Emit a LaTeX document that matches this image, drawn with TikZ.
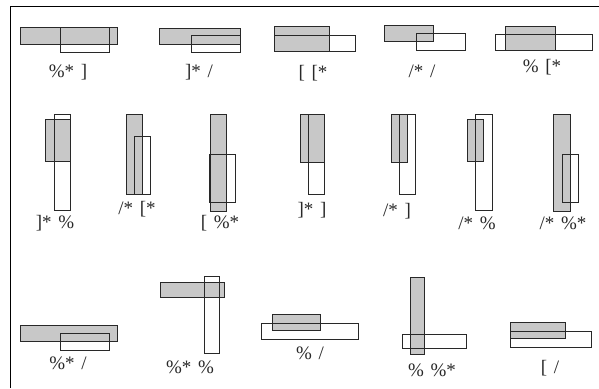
\documentclass[tikz,border=0pt]{standalone}
\usepackage{fontspec}
\setmainfont{Liberation Serif}
\usepackage{tikz}
\definecolor{BoxGray}{RGB}{200,200,200}
\definecolor{EdgeDark}{RGB}{40,40,40}
\definecolor{TextDark}{RGB}{40,40,40}
\newcommand{\labgap}{\hspace{.35em}}
\begin{document}
\begin{tikzpicture}[x=1pt,y=-1pt,
  graybox/.style={fill=BoxGray,draw=EdgeDark,line width=.8pt},
  openbox/.style={draw=EdgeDark,line width=.8pt},
  lab/.style={font=\fontsize{19}{22}\selectfont,text=TextDark,inner sep=0pt}]
  \useasboundingbox (0,0) rectangle (599,388);
  \draw[line width=1pt] (10.7,388)--(10.7,6)--(599,6);
  \draw[graybox] (20,27.7) rectangle (117.7,44.3);
  \draw[openbox] (60,27.7) rectangle (109,52.3);
  \draw[graybox] (159.3,28.3) rectangle (240.7,44.3);
  \draw[openbox] (191.7,35.7) rectangle (240.7,52.3);
  \draw[graybox] (274,26.7) rectangle (329,51.7);
  \draw[openbox] (274,35.7) rectangle (355,51.7);
  \draw[graybox] (384.3,25.7) rectangle (433.3,41.7);
  \draw[openbox] (416,33.7) rectangle (465,50);
  \draw[graybox] (505.7,26) rectangle (555.7,50.7);
  \draw[openbox] (495.7,34.3) rectangle (592.7,50.7);
  \draw[graybox] (45.7,119) rectangle (70,161);
  \draw[openbox] (54,114) rectangle (70,210);
  \draw[graybox] (126.3,114) rectangle (142.7,194.3);
  \draw[openbox] (134.3,136.7) rectangle (150.3,194.3);
  \draw[graybox] (210,114.3) rectangle (226.7,211);
  \draw[openbox] (209.3,154.3) rectangle (235,202.7);
  \draw[graybox] (300,114) rectangle (324.3,162.3);
  \draw[openbox] (308.3,114) rectangle (324.3,194.3);
  \draw[graybox] (391,114) rectangle (407.3,162);
  \draw[openbox] (399,114) rectangle (415.7,194.3);
  \draw[graybox] (467.3,119) rectangle (483.7,161);
  \draw[openbox] (475.7,114) rectangle (492.3,210);
  \draw[graybox] (553.3,114) rectangle (570,211);
  \draw[openbox] (562.3,154.3) rectangle (578.3,202.7);
  \draw[graybox] (20,325.7) rectangle (117.7,341.7);
  \draw[openbox] (60,333.3) rectangle (109,350);
  \draw[graybox] (160.3,282.7) rectangle (224.3,297.3);
  \draw[openbox] (204.3,276) rectangle (219,353.7);
  \draw[graybox] (272.3,314.3) rectangle (320.7,330.7);
  \draw[openbox] (261.7,323.3) rectangle (358.3,339.3);
  \draw[graybox] (410.3,277.3) rectangle (424.7,354.3);
  \draw[openbox] (402.3,334.3) rectangle (466,348);
  \draw[graybox] (510.3,322.3) rectangle (565.7,338.3);
  \draw[openbox] (510.3,331) rectangle (591,347.3);
  \node[lab] (lab1) at (68,72) {\%*\labgap]};
  \node[lab] (lab2) at (199,72) {]*\labgap/};
  \node[lab] (lab3) at (313,73) {[\labgap[*};
  \node[lab] (lab4) at (422,71) {/*\labgap/};
  \node[lab] (lab5) at (542,67) {\%\labgap[*};
  \node[lab] (lab6) at (55,223) {]*\labgap\%};
  \node[lab] (lab7) at (137,209) {/*\labgap[*};
  \node[lab] (lab8) at (220,223) {[\labgap\%*};
  \node[lab] (lab9) at (312,210) {]*\labgap]};
  \node[lab] (lab10) at (397,211) {/*\labgap]};
  \node[lab] (lab11) at (477,223) {/*\labgap\%};
  \node[lab] (lab12) at (563,223) {/*\labgap\%*};
  \node[lab] (lab13) at (68,363) {\%*\labgap/};
  \node[lab] (lab14) at (190,367) {\%*\labgap\%};
  \node[lab] (lab15) at (310,353) {\%\labgap/};
  \node[lab] (lab16) at (432,370) {\%\labgap\%*};
  \node[lab] (lab17) at (550,368) {[\labgap/};
\end{tikzpicture}
\end{document}
